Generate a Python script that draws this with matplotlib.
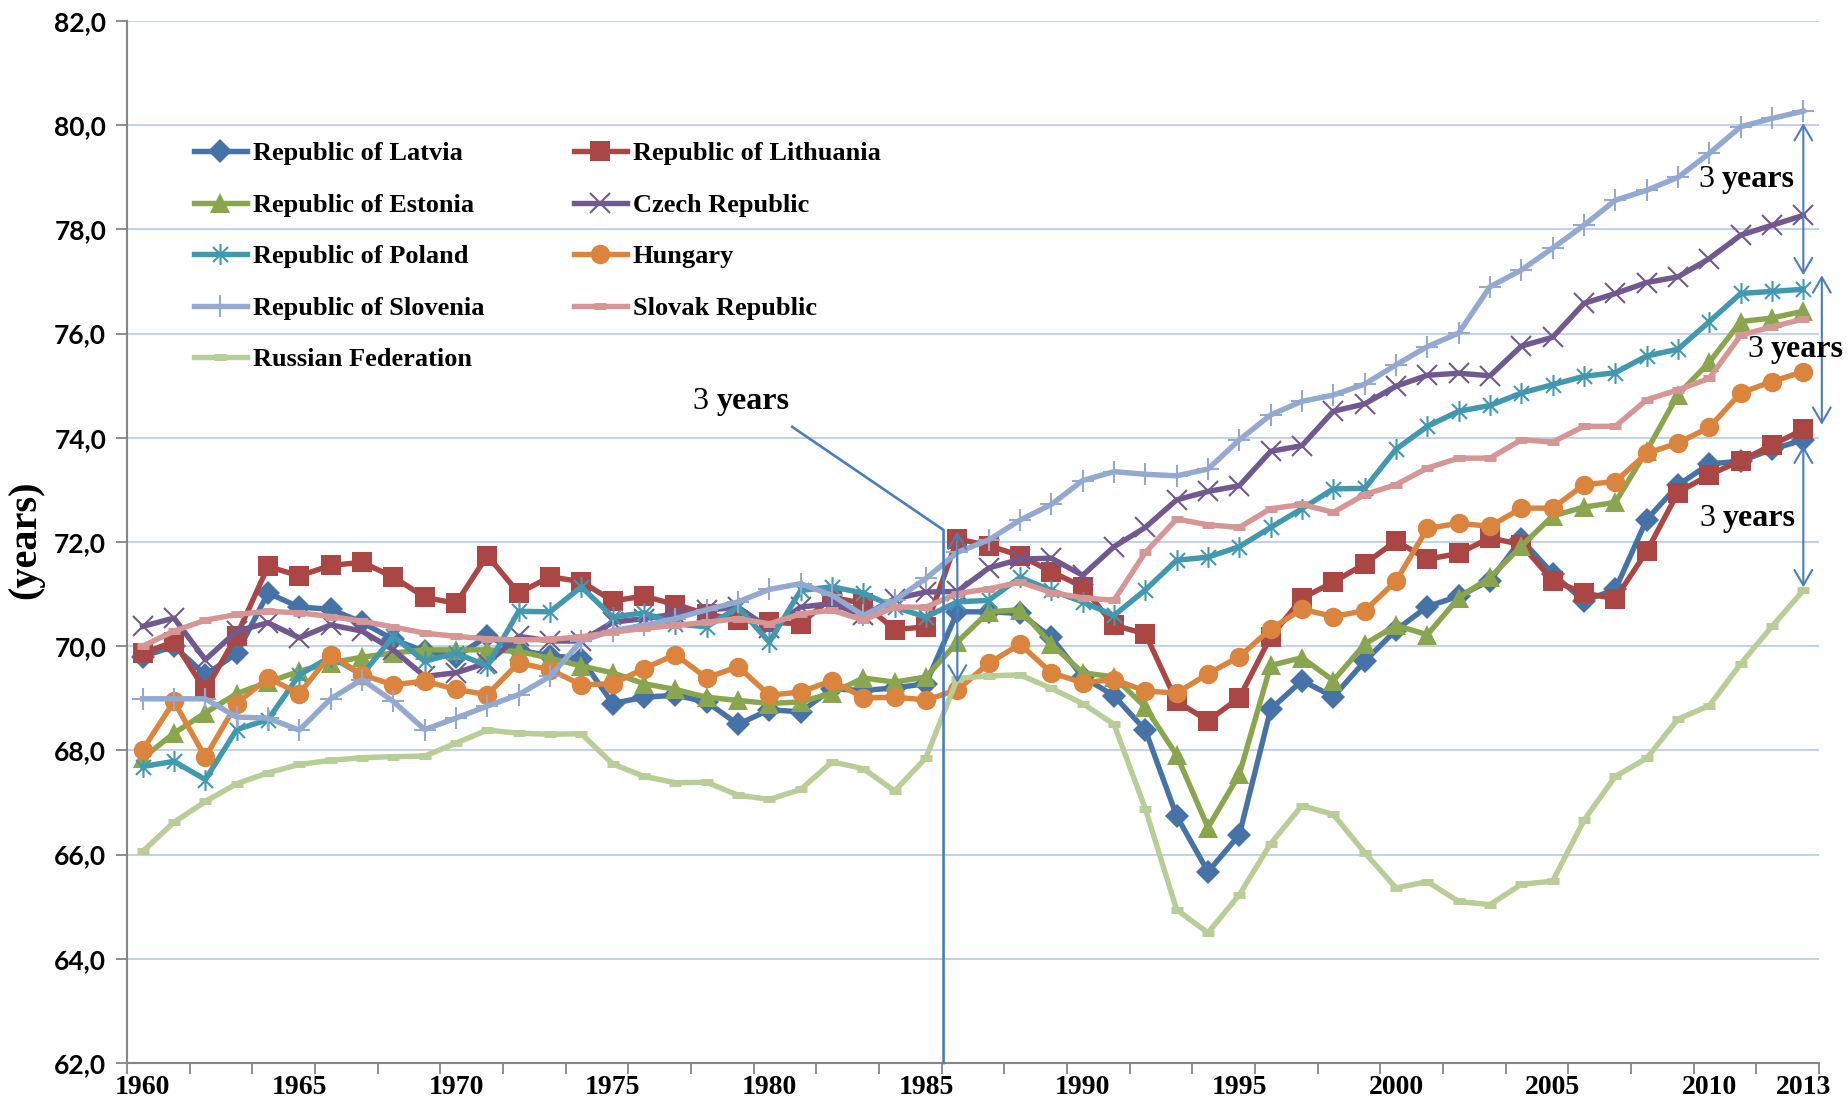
import numpy as np
import matplotlib
matplotlib.use("Agg")
import matplotlib.pyplot as plt
from matplotlib.path import Path

years = list(range(1960, 2014))

latvia = [69.80, 70.00, 69.45, 69.86, 71.02, 70.75, 70.71, 70.46, 70.13, 69.90,
          69.80, 70.19, 69.92, 69.82, 69.76, 68.90, 69.02, 69.06, 68.93, 68.50,
          68.78, 68.74, 69.18, 69.15, 69.20, 69.28, 70.66, 70.66, 70.63, 70.17,
          69.41, 69.05, 68.39, 66.74, 65.67, 66.38, 68.79, 69.34, 69.03, 69.71,
          70.31, 70.76, 70.96, 71.26, 72.05, 71.39, 70.87, 71.09, 72.43, 73.09,
          73.50, 73.55, 73.78, 73.96]
lithuania = [69.86, 70.09, 69.15, 70.20, 71.53, 71.35, 71.55, 71.61, 71.33, 70.94,
             70.82, 71.74, 71.02, 71.33, 71.24, 70.87, 70.96, 70.80, 70.62, 70.50,
             70.46, 70.43, 70.94, 70.82, 70.32, 70.37, 72.06, 71.93, 71.74, 71.43,
             71.14, 70.40, 70.24, 68.94, 68.57, 69.01, 70.18, 70.92, 71.23, 71.58,
             72.02, 71.67, 71.78, 72.08, 71.95, 71.26, 71.02, 70.91, 71.82, 72.95,
             73.29, 73.56, 73.86, 74.16]
estonia = [67.85, 68.33, 68.72, 69.09, 69.31, 69.52, 69.68, 69.79, 69.87, 69.93,
           69.93, 69.93, 69.90, 69.77, 69.62, 69.49, 69.28, 69.17, 69.02, 68.96,
           68.90, 68.93, 69.10, 69.39, 69.31, 69.41, 70.08, 70.66, 70.70, 70.04,
           69.49, 69.41, 68.83, 67.91, 66.52, 67.54, 69.63, 69.78, 69.34, 70.04,
           70.40, 70.22, 70.93, 71.32, 71.92, 72.50, 72.67, 72.76, 73.75, 74.83,
           75.45, 76.23, 76.30, 76.43]
czech = [70.38, 70.54, 69.74, 70.29, 70.45, 70.16, 70.41, 70.29, 69.93, 69.42,
         69.49, 69.68, 70.19, 70.10, 70.10, 70.46, 70.53, 70.62, 70.69, 70.75,
         70.34, 70.75, 70.82, 70.59, 70.91, 71.04, 71.05, 71.50, 71.67, 71.69,
         71.36, 71.91, 72.28, 72.81, 72.97, 73.08, 73.74, 73.85, 74.51, 74.65,
         74.99, 75.20, 75.24, 75.19, 75.76, 75.93, 76.58, 76.77, 76.98, 77.09,
         77.44, 77.89, 78.08, 78.27]
poland = [67.69, 67.79, 67.44, 68.40, 68.59, 69.45, 69.80, 69.45, 70.19, 69.71,
          69.87, 69.62, 70.67, 70.66, 71.14, 70.56, 70.64, 70.43, 70.37, 70.75,
          70.08, 71.07, 71.14, 71.02, 70.75, 70.56, 70.85, 70.88, 71.32, 71.07,
          70.85, 70.59, 71.08, 71.65, 71.71, 71.91, 72.28, 72.64, 73.02, 73.03,
          73.78, 74.22, 74.51, 74.62, 74.86, 75.02, 75.18, 75.25, 75.57, 75.70,
          76.23, 76.77, 76.81, 76.85]
hungary = [68.01, 68.94, 67.87, 68.90, 69.39, 69.09, 69.84, 69.45, 69.26, 69.33,
           69.17, 69.07, 69.68, 69.55, 69.26, 69.28, 69.57, 69.84, 69.39, 69.61,
           69.06, 69.12, 69.34, 69.01, 69.02, 68.97, 69.16, 69.67, 70.04, 69.49,
           69.30, 69.36, 69.14, 69.10, 69.47, 69.80, 70.33, 70.71, 70.57, 70.68,
           71.25, 72.26, 72.36, 72.30, 72.65, 72.65, 73.10, 73.16, 73.70, 73.90,
           74.20, 74.86, 75.08, 75.27]
slovenia = [68.99, 68.99, 68.99, 68.64, 68.62, 68.39, 68.99, 69.36, 68.94, 68.40,
            68.62, 68.85, 69.07, 69.42, 70.10, 70.30, 70.40, 70.53, 70.70, 70.85,
            71.09, 71.20, 70.98, 70.59, 70.88, 71.30, 71.80, 72.04, 72.42, 72.72,
            73.18, 73.35, 73.30, 73.27, 73.40, 73.96, 74.44, 74.70, 74.82, 75.03,
            75.40, 75.75, 76.01, 76.90, 77.22, 77.64, 78.08, 78.56, 78.75, 79.00,
            79.46, 79.97, 80.13, 80.27]
slovak = [70.00, 70.29, 70.50, 70.61, 70.67, 70.64, 70.57, 70.48, 70.37, 70.25,
          70.19, 70.14, 70.12, 70.13, 70.18, 70.27, 70.34, 70.40, 70.46, 70.53,
          70.43, 70.62, 70.69, 70.50, 70.75, 70.75, 71.01, 71.10, 71.23, 71.03,
          70.93, 70.88, 71.80, 72.44, 72.33, 72.28, 72.64, 72.72, 72.57, 72.91,
          73.10, 73.42, 73.61, 73.61, 73.96, 73.92, 74.22, 74.22, 74.73, 74.92,
          75.14, 75.97, 76.13, 76.28]
russia = [66.06, 66.62, 67.02, 67.36, 67.57, 67.73, 67.81, 67.86, 67.88, 67.89,
          68.14, 68.39, 68.33, 68.31, 68.32, 67.74, 67.50, 67.38, 67.39, 67.14,
          67.06, 67.25, 67.78, 67.65, 67.22, 67.86, 69.38, 69.43, 69.45, 69.19,
          68.90, 68.50, 66.88, 64.94, 64.50, 65.23, 66.21, 66.94, 66.77, 66.04,
          65.36, 65.48, 65.10, 65.04, 65.43, 65.49, 66.66, 67.50, 67.85, 68.60,
          68.86, 69.66, 70.38, 71.07]

names = ["Republic of Latvia", "Republic of Lithuania", "Republic of Estonia",
         "Czech Republic", "Republic of Poland", "Hungary",
         "Republic of Slovenia", "Slovak Republic", "Russian Federation"]
x_label_years = [1960, 1965, 1970, 1975, 1980, 1985, 1990, 1995, 2000, 2005, 2010, 2013]
y_ticks = [62, 64, 66, 68, 70, 72, 74, 76, 78, 80, 82]

series = [latvia, lithuania, estonia, czech, poland, hungary, slovenia, slovak, russia]

# asterisk marker (x plus vertical bar)
ast = Path([(0, -1), (0, 1), (-0.72, -0.72), (0.72, 0.72), (-0.72, 0.72), (0.72, -0.72)],
           [Path.MOVETO, Path.LINETO, Path.MOVETO, Path.LINETO, Path.MOVETO, Path.LINETO])

styles = [
    dict(color="#4572A7", marker="D", ms=12, mew=0),
    dict(color="#AA4643", marker="s", ms=14, mew=0),
    dict(color="#89A54E", marker="^", ms=14, mew=0),
    dict(color="#71588F", marker="x", ms=14, mew=1.5),
    dict(color="#4198AF", marker=ast, ms=15, mew=1.5),
    dict(color="#DB843D", marker="o", ms=14, mew=0),
    dict(color="#93A9CF", marker="+", ms=16, mew=1.5),
    dict(color="#D69695", marker="_", ms=9, mew=5),
    dict(color="#B9CD96", marker="_", ms=9, mew=5),
]

fig = plt.figure(figsize=(18.48, 11.07), dpi=100)
ax = fig.add_axes([127 / 1848, 1 - 1063 / 1107, (1819 - 127) / 1848, (1063 - 21) / 1107])

xi = np.arange(len(years))
handles = []
for k, (vals, name, st) in enumerate(zip(series, names, styles)):
    h, = ax.plot(xi, vals, color=st["color"], lw=3.9, marker=st["marker"],
                 markersize=st["ms"], markeredgewidth=st["mew"],
                 markeredgecolor=st["color"], markerfacecolor=st["color"],
                 label=name, zorder=3 + k * 0.1, solid_joinstyle="round")
    handles.append(h)

ax.set_xlim(-0.5, len(years) - 0.5)
ax.set_ylim(62, 82)

ax.set_yticks(y_ticks)
ax.set_yticklabels([f"{v:.1f}".replace(".", ",") for v in y_ticks],
                   fontfamily="Lato", fontweight="bold", fontsize=19)
ax.yaxis.grid(True, color="#BCCDEA", lw=1.3)
ax.set_axisbelow(True)

ax.set_xticks(np.arange(-0.5, len(years), 2))
ax.set_xticklabels([])
ax.set_xticks([y - 1960 for y in x_label_years], minor=True)
ax.set_xticklabels([str(y) for y in x_label_years], minor=True,
                   fontfamily="Liberation Serif", fontweight="bold", fontsize=20)
ax.tick_params(axis="x", which="major", length=8, width=1.3, color="#868686", direction="out")
ax.tick_params(axis="x", which="minor", length=0, pad=9)
ax.tick_params(axis="y", length=8, width=1.3, color="#868686", pad=7)

for s in ["top", "right"]:
    ax.spines[s].set_visible(False)
for s in ["left", "bottom"]:
    ax.spines[s].set_color("#868686")
    ax.spines[s].set_linewidth(1.5)

fig.text(26 / 1848, 1 - 540 / 1107, "(years)", rotation=90, ha="center", va="center",
         fontfamily="Liberation Serif", fontweight="bold", fontsize=29)

# legend (row-major order as in the reference)
order = [0, 2, 4, 6, 8, 1, 3, 5, 7]
leg = ax.legend([handles[i] for i in order], [names[i] for i in order],
                ncol=2, loc="upper left", bbox_to_anchor=(194 / 1848, 1 - 142 / 1107),
                bbox_transform=fig.transFigure, frameon=False, borderpad=0,
                borderaxespad=0, handlelength=2.0, handletextpad=0.23,
                columnspacing=3.4, labelspacing=1.06, numpoints=1,
                prop=dict(family="Liberation Serif", weight="bold", size=19))

ann_c = "#4A7EBB"
ax.plot([20.73, 25.56, 25.56], [74.21, 72.23, 62], color=ann_c, lw=1.9,
        clip_on=False, zorder=6)

def darrow(x, y1, y2):
    ax.annotate("", xy=(x, y2), xytext=(x, y1),
                arrowprops=dict(arrowstyle="<->,head_length=0.55,head_width=0.32",
                                color=ann_c, lw=1.5, shrinkA=0, shrinkB=0,
                                mutation_scale=20),
                annotation_clip=False, zorder=7)

darrow(26, 72.2, 69.3)
darrow(53.0, 80.04, 77.12)
darrow(53.59, 77.12, 74.25)
darrow(53.0, 73.85, 71.13)

def three_years(x, y):
    ax.annotate("3", xy=(x, y), xytext=(-36, 0), textcoords="offset points",
                ha="left", va="center", fontfamily="Liberation Serif",
                fontsize=23, annotation_clip=False, zorder=8)
    ax.annotate("years", xy=(x, y), xytext=(-19, 0), textcoords="offset points",
                ha="left", va="center", fontfamily="Liberation Serif",
                fontweight="bold", fontsize=23, annotation_clip=False, zorder=8)

three_years(19.15, 74.69)
three_years(51.24, 78.95)
three_years(52.80, 75.69)
three_years(51.27, 72.45)

fig.savefig("out.png", dpi=100)
